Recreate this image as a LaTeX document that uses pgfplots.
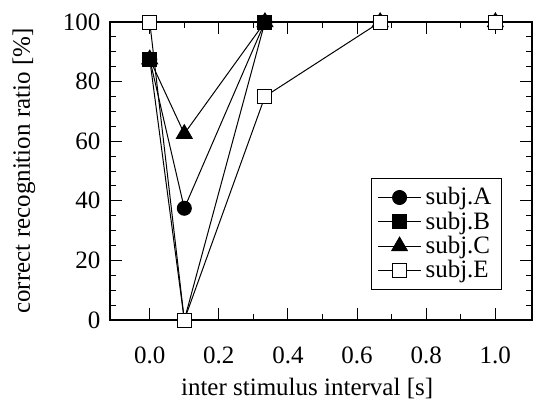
\documentclass[border=0pt]{standalone}
\usepackage{pgfplots}
\pgfplotsset{compat=1.18}
\usepackage{fontspec}
\setmainfont{Liberation Serif}
\begin{document}
\begin{tikzpicture}[font=\fontsize{12.5}{14}\selectfont]
\begin{axis}[
  name=ax,
  scale only axis, width=211pt, height=149pt,
  xmin=-0.115, xmax=1.106, ymin=0, ymax=100,
  xtick={0,0.2,0.4,0.6,0.8,1.0}, minor x tick num=1,
  ytick={0,20,40,60,80,100}, minor y tick num=3,
  tick align=inside, major tick length=6pt, minor tick length=3pt,
  tick style={black, line width=0.5pt},
  axis line style={line width=0.6pt},
  every tick label/.append style={font=\fontsize{12.5}{14}\selectfont},
  label style={font=\fontsize{12.5}{14}\selectfont},
  xticklabel style={/pgf/number format/fixed, /pgf/number format/fixed zerofill, /pgf/number format/precision=1, anchor=base, yshift=-21.5pt},
  /pgf/number format/assume math mode=true,
  yticklabel style={xshift=-1.3pt},
  xlabel={inter stimulus interval [s]},
  ylabel={correct recognition ratio [\%]},
  xlabel style={at={(axis description cs:0.467,-0.252)}, anchor=base},
  ylabel style={at={(axis description cs:-0.204,0.5)}, anchor=center},
  legend cell align=left,
  legend style={at={(0.929,0.1)}, anchor=south east, draw=black, line width=0.5pt,
    font=\fontsize{12.5}{14}\selectfont,
    inner xsep=3pt, inner ysep=2.5pt, row sep=-2pt},
  legend image code/.code={
    \draw[#1, mark repeat=2, mark phase=2] plot coordinates {(0pt,0pt) (10.75pt,0pt) (21.5pt,0pt)};},
  every axis plot/.append style={black, line width=0.5pt, mark size=3.5pt},
]
\addplot[mark=*, mark options={fill=black}] coordinates {(0,87.5) (0.1,37.5) (0.3333,100) (0.6667,100) (1.0,100)};
\addlegendentry{subj.A}
\addplot[mark=square*, mark options={fill=black}] coordinates {(0,87.5) (0.1,0) (0.3333,100) (0.6667,100) (1.0,100)};
\addlegendentry{subj.B}
\addplot[mark=triangle*, mark size=4.5pt, mark options={fill=black}] coordinates {(0,87.5) (0.1,62.5) (0.3333,100) (0.6667,100) (1.0,100)};
\addlegendentry{subj.C}
\addplot[mark=square*, mark options={fill=white}] coordinates {(0,100) (0.1,0) (0.3333,75) (0.6667,100) (1.0,100)};
\addlegendentry{subj.E}
\end{axis}
\path (ax.south west) ++(-55pt,-42.5pt) (ax.north east) ++(1.5pt,11pt);
\end{tikzpicture}
\end{document}
